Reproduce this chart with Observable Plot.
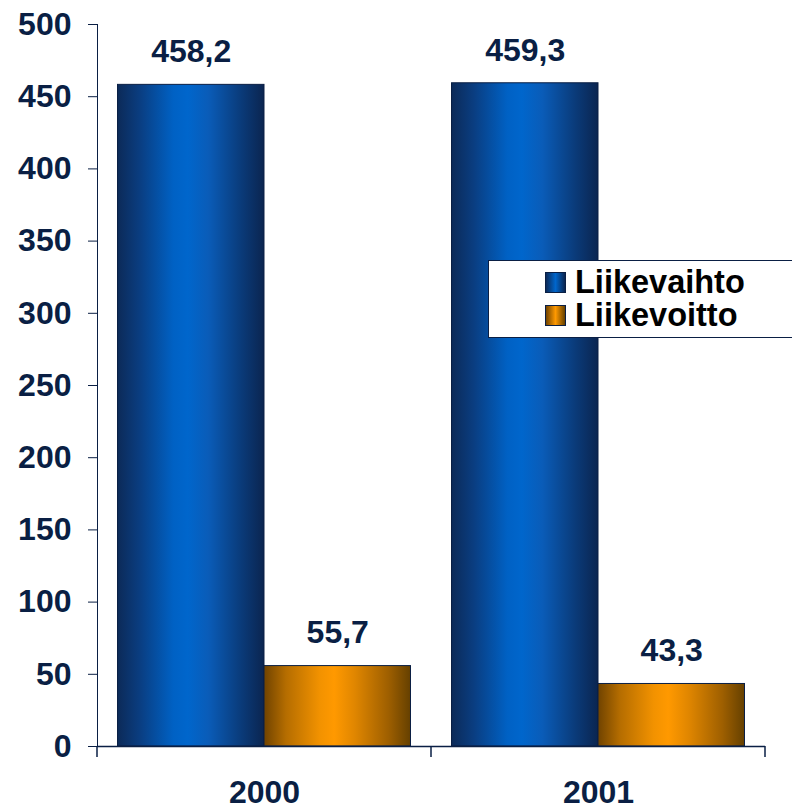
<!DOCTYPE html>
<html>
<head>
<meta charset="utf-8">
<script src="https://cdn.jsdelivr.net/npm/d3@7"></script>
<script src="https://cdn.jsdelivr.net/npm/@observablehq/plot@0.6"></script>
<style>
  html, body { margin: 0; padding: 0; background: #fff; }
  #wrap { position: relative; width: 792px; height: 810px; overflow: hidden; font-family: "Liberation Sans", Arial, sans-serif; }
  #legend { position: absolute; left: 488px; top: 260px; width: 320px; height: 78px; border: 1px solid #0a1f44; background: #fff; box-sizing: border-box; }
  .row { position: absolute; left: 56px; height: 33px; display: flex; align-items: center; font-weight: bold; font-size: 32.5px; color: #000; }
  .sw { width: 19px; height: 19px; border: 1px solid #0a1f44; margin-right: 9px; }
</style>
</head>
<body>
<div id="wrap">
  <div id="chart"></div>
  <div id="legend"></div>
</div>
<script>
const years = ["2000", "2001"];
const series = ["Liikevaihto", "Liikevoitto"];
const liikevaihto = [458.2, 459.3];
const liikevoitto = [55.7, 43.3];
const yTicks = [0, 50, 100, 150, 200, 250, 300, 350, 400, 450, 500];

const navy = "#0a1f44";
const gradIds = ["gradBlue", "gradOrange"];
const gradStops = [
  ["#0c2a58", "#0a3d80", "#0061c4", "#0066cc", "#0a5cb8", "#0a3a78", "#0b2550"],
  ["#704300", "#b56d00", "#f29200", "#ff9900", "#e08600", "#9e5f00", "#654000"]
];

const data = [];
years.forEach((yr, i) => {
  data.push({year: yr, series: series[0], value: liikevaihto[i]});
  data.push({year: yr, series: series[1], value: liikevoitto[i]});
});

const fmt = v => v.toFixed(1).replace(".", ",");

const plot = Plot.plot({
  width: 792,
  height: 810,
  marginTop: 24,
  marginBottom: 64,
  marginLeft: 97,
  marginRight: 27,
  style: {fontFamily: "'Liberation Sans', Arial, sans-serif", fontSize: "32px", fontWeight: "bold", color: navy, background: "transparent"},
  fx: {domain: years, paddingInner: 0, paddingOuter: 0, label: null, tickSize: 0, tickPadding: 34},
  x: {domain: series, paddingInner: 0, paddingOuter: 0.14, round: false, axis: null},
  y: {domain: [0, 500], ticks: yTicks, tickSize: 9, tickPadding: 17, label: null, line: true, tickFormat: d => String(d)},
  color: {domain: series, range: gradIds.map(id => `url(#${id})`)},
  marks: [
    Plot.barY(data, {fx: "year", x: "series", y: "value", fill: "series", stroke: navy, strokeWidth: 1}),
    Plot.ruleY([0], {stroke: navy, strokeWidth: 1.5}),
    Plot.text(data, {fx: "year", x: "series", y: "value", text: d => fmt(d.value), dy: -33, fontSize: 32, fontWeight: "bold", fill: navy})
  ]
});

// gradient definitions for the cylinder-like shading
const svg = d3.select(plot.tagName.toLowerCase() === "svg" ? plot : plot.querySelector("svg"));
const defs = svg.insert("defs", ":first-child");
gradIds.forEach((id, k) => {
  const g = defs.append("linearGradient").attr("id", id).attr("x1", "0%").attr("x2", "100%").attr("y1", "0%").attr("y2", "0%");
  const offs = [0, 0.15, 0.38, 0.48, 0.62, 0.85, 1];
  offs.forEach((o, j) => g.append("stop").attr("offset", o).attr("stop-color", gradStops[k][j]));
});

// category boundary ticks on the x axis, placed from Plot's fx and y scales
const fx = plot.scale("fx");
const y = plot.scale("y");
const y0 = y.apply(0);
const bounds = d3.range(years.length + 1).map(i => fx.range[0] + i * fx.step);
svg.append("g").selectAll("line").data(bounds).join("line")
  .attr("x1", d => d).attr("x2", d => d)
  .attr("y1", y0).attr("y2", y0 + 11)
  .attr("stroke", navy).attr("stroke-width", 1.5);

document.getElementById("chart").appendChild(plot);

// legend
const legend = d3.select("#legend");
series.forEach((s, k) => {
  const row = legend.append("div").attr("class", "row").style("top", (5 + k * 33) + "px");
  row.append("div").attr("class", "sw")
    .style("background", `linear-gradient(to right, ${gradStops[k][0]}, ${gradStops[k][3]} 50%, ${gradStops[k][6]})`);
  row.append("span").text(s);
});
</script>
</body>
</html>
